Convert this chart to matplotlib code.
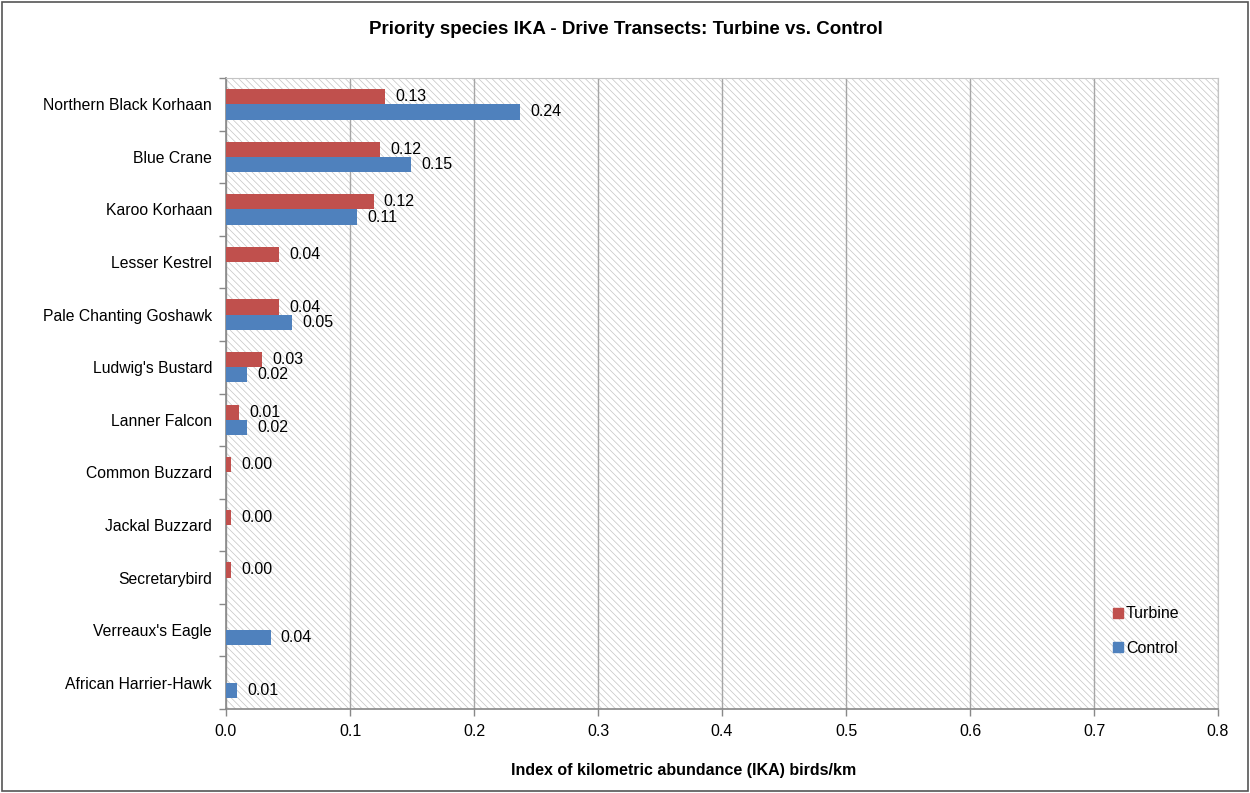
import numpy as np
import matplotlib
matplotlib.use("Agg")
import matplotlib.pyplot as plt
from matplotlib.patches import Rectangle
from matplotlib.lines import Line2D

plt.rcParams['font.family'] = ['Liberation Sans', 'DejaVu Sans']
plt.rcParams['hatch.color'] = '#c4c4c4'
plt.rcParams['hatch.linewidth'] = 0.5

species = ["Northern Black Korhaan", "Blue Crane", "Karoo Korhaan", "Lesser Kestrel",
           "Pale Chanting Goshawk", "Ludwig's Bustard", "Lanner Falcon", "Common Buzzard",
           "Jackal Buzzard", "Secretarybird", "Verreaux's Eagle", "African Harrier-Hawk"]
turbine = [0.128, 0.124, 0.119, 0.043, 0.043, 0.029, 0.0105, 0.004, 0.004, 0.004, None, None]
control = [0.237, 0.149, 0.106, None, 0.053, 0.017, 0.017, None, None, None, 0.036, 0.009]
xticks = [0.0, 0.1, 0.2, 0.3, 0.4, 0.5, 0.6, 0.7, 0.8]

red = '#c0504d'
blue = '#4f81bd'

fig = plt.figure(figsize=(12.5, 7.93), dpi=100)
ax = fig.add_axes([226/1250, 1-709/793, (1218-226)/1250, (709-78)/793])

# hatched plot area background
ax.add_patch(Rectangle((0, 0), 1, 1, transform=ax.transAxes, facecolor='white',
                       edgecolor='#c4c4c4', hatch='\\\\\\\\\\', linewidth=0, zorder=0))

n = len(species)
y = np.arange(n)
h = 0.29

def draw(vals, offset, color):
    for i, v in enumerate(vals):
        if v is None:
            continue
        ax.barh(y[i] + offset, v, height=h, color=color, zorder=3)
        ax.text(v + 0.0082, y[i] + offset, f"{v:.2f}", va='center', ha='left',
                fontsize=11.5, zorder=4)

draw(turbine, -h/2, red)
draw(control, h/2, blue)

ax.set_xlim(0, 0.8)
ax.set_ylim(n - 0.5, -0.5)
ax.set_xticks(xticks)
ax.set_xticklabels([f"{t:.1f}" for t in xticks], fontsize=11.5)
ax.set_yticks(y)
ax.set_yticklabels(species, fontsize=11.3)
ax.set_yticks(np.arange(-0.5, n, 1), minor=True)
ax.tick_params(axis='y', which='major', length=0, pad=10)
ax.tick_params(axis='y', which='minor', length=5, color='#888888', width=1)
ax.tick_params(axis='x', length=5, color='#888888', width=1, pad=6)
ax.grid(axis='x', color='#a6a6a6', linewidth=1, zorder=1)
ax.set_axisbelow(True)
for s in ['top', 'right']:
    ax.spines[s].set_visible(True)
    ax.spines[s].set_color('#c4c4c4')
    ax.spines[s].set_linewidth(0.8)
for s in ['left', 'bottom']:
    ax.spines[s].set_color('#888888')
    ax.spines[s].set_linewidth(1.2)

fig.text(684/1250, 1-770/793, "Index of kilometric abundance (IKA) birds/km",
         ha='center', va='center', fontsize=11.5, fontweight='bold')
fig.text(626/1250, 1-29/793, "Priority species IKA - Drive Transects: Turbine vs. Control",
         ha='center', va='center', fontsize=13.5, fontweight='bold')

handles = [Line2D([], [], marker='s', linestyle='none', color=red, markersize=7),
           Line2D([], [], marker='s', linestyle='none', color=blue, markersize=7)]
ax.legend(handles, ["Turbine", "Control"], loc='lower right',
          bbox_to_anchor=(1194/1250, 1-670/793), bbox_transform=fig.transFigure,
          frameon=False, fontsize=11.5, handlelength=0.6, handletextpad=0.2,
          labelspacing=1.2)

fig.add_artist(Rectangle((2/1250, 2/793), 1-4/1250, 1-4/793, transform=fig.transFigure,
                         fill=False, edgecolor='#555555', linewidth=1.2))

fig.savefig("out.png", dpi=100)
